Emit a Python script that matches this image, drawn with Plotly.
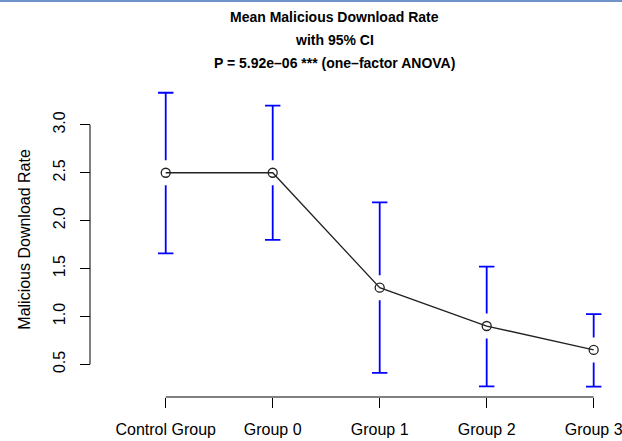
import plotly.graph_objects as go

# ---- data ----
categories = ["Control Group", "Group 0", "Group 1", "Group 2", "Group 3"]
means = [2.50, 2.50, 1.30, 0.90, 0.65]
ci_upper = [3.335, 3.20, 2.19, 1.52, 1.025]
ci_lower = [1.658, 1.80, 0.41, 0.27, 0.267]
ytick_vals = [0.5, 1.0, 1.5, 2.0, 2.5, 3.0]
ytick_text = ["0.5", "1.0", "1.5", "2.0", "2.5", "3.0"]
title_lines = ["Mean Malicious Download Rate", "with 95% CI",
               "P = 5.92e\u201306 *** (one\u2013factor ANOVA)"]
ylabel = "Malicious Download Rate"

# ---- layout geometry (pixels) ----
W, H = 622, 441
plot_left, plot_right = 148.6, 610.8
plot_top, plot_bottom = 81.0, 398.4
yaxis_x_px = 90.0
xaxis_y_px = 397.0

# R-style 4% extension of ranges
lo, hi = min(ci_lower), max(ci_upper)
ext = (hi - lo) * 0.04
yrange = [lo - ext, hi + ext]
n = len(categories)
xrange = [-0.04 * (n - 1), (n - 1) * 1.04]

px_per_unit = (plot_bottom - plot_top) / (yrange[1] - yrange[0])
gap = 12.5 / px_per_unit  # gap around point on CI bars

blue = "#0000FF"
fig = go.Figure()

up_x, up_y, lo_x, lo_y = [], [], [], []
for c, m, u, l in zip(categories, means, ci_upper, ci_lower):
    if u > m + gap:
        up_x += [c, c, None]
        up_y += [u, m + gap, None]
    if l < m - gap:
        lo_x += [c, c, None]
        lo_y += [m - gap, l, None]
fig.add_trace(go.Scatter(x=up_x, y=up_y, mode="lines",
                         line=dict(color=blue, width=1.8), hoverinfo="skip"))
fig.add_trace(go.Scatter(x=lo_x, y=lo_y, mode="lines",
                         line=dict(color=blue, width=1.8), hoverinfo="skip"))
fig.add_trace(go.Scatter(x=categories + categories, y=ci_upper + ci_lower,
                         mode="markers",
                         marker=dict(symbol="line-ew", size=11,
                                     line=dict(color=blue, width=1.8)),
                         hoverinfo="skip"))
fig.add_trace(go.Scatter(x=categories, y=means, mode="lines+markers",
                         line=dict(color="#222222", width=1.3),
                         marker=dict(symbol="circle-open", size=9, color="#222222",
                                     line=dict(color="#222222", width=1.3))))

shapes = [
    dict(type="line", xref="x", yref="paper", x0=0, x1=n - 1,
         y0=(H - xaxis_y_px) / H, y1=(H - xaxis_y_px) / H,
         line=dict(color="black", width=1)),
    dict(type="line", xref="paper", yref="y", x0=yaxis_x_px / W, x1=yaxis_x_px / W,
         y0=ytick_vals[0], y1=ytick_vals[-1], line=dict(color="black", width=1)),
    dict(type="rect", xref="paper", yref="paper", x0=0, x1=1,
         y0=1 - 2 / H, y1=1, line=dict(width=0), fillcolor="#6f93c8"),
]

annotations = []
title_y_px = [17, 40, 63]
for t, ypx in zip(title_lines, title_y_px):
    annotations.append(dict(text="<b>%s</b>" % t, x=335 / W, y=(H - ypx) / H,
                            xref="paper", yref="paper", showarrow=False,
                            xanchor="center", yanchor="middle",
                            font=dict(family="Liberation Sans", size=14, color="black")))
annotations.append(dict(text=ylabel, x=25 / W, y=(H - (plot_top + plot_bottom) / 2) / H,
                        xref="paper", yref="paper", showarrow=False, textangle=-90,
                        xanchor="center", yanchor="middle",
                        font=dict(family="Liberation Sans", size=16, color="black")))

fig.update_layout(
    width=W, height=H,
    margin=dict(l=0, r=0, t=0, b=0, pad=0),
    paper_bgcolor="white", plot_bgcolor="white",
    showlegend=False,
    font=dict(family="Liberation Sans", size=16, color="black"),
    shapes=shapes, annotations=annotations,
    xaxis=dict(domain=[plot_left / W, plot_right / W], range=xrange,
               type="category", categoryorder="array", categoryarray=categories,
               showgrid=False, zeroline=False, showline=False, automargin=False,
               ticks="outside", ticklen=10, tickwidth=1, tickcolor="black",
               anchor="free", position=(H - xaxis_y_px) / H,
               tickfont=dict(size=16), ticklabelstandoff=8,
               ticklabeloverflow="allow"),
    yaxis=dict(domain=[(H - plot_bottom) / H, (H - plot_top) / H], range=yrange,
               showgrid=False, zeroline=False, showline=False, automargin=False,
               tickvals=ytick_vals, ticktext=ytick_text, tickangle=-90,
               ticks="outside", ticklen=10, tickwidth=1, tickcolor="black",
               anchor="free", position=yaxis_x_px / W,
               tickfont=dict(size=16), ticklabelstandoff=9,
               ticklabeloverflow="allow"),
)

fig.write_html(
    "out.html",
    config={"displayModeBar": False},
    post_script="document.body.style.margin='0';document.body.style.overflow='hidden';",
)
